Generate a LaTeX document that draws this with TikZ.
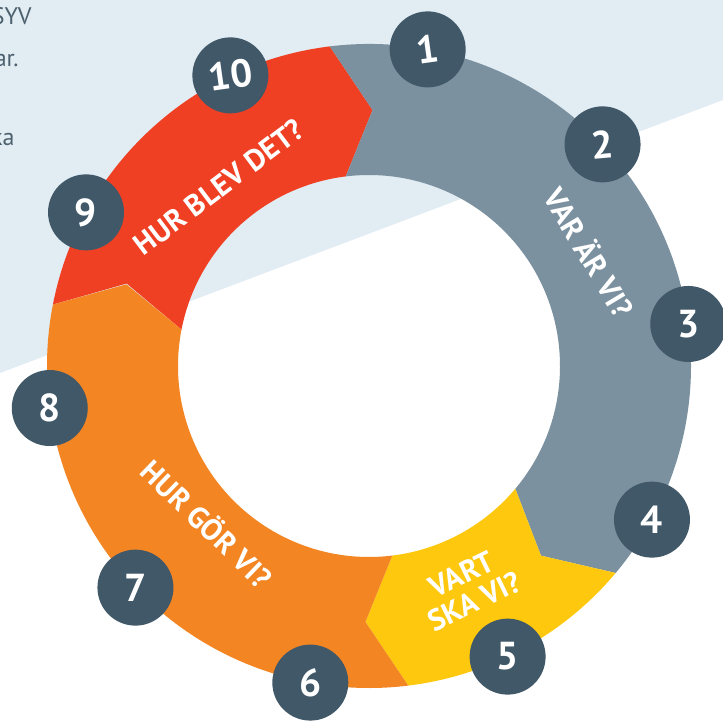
\documentclass[tikz,border=0pt]{standalone}
\usepackage{fontspec}
\setmainfont{PT Sans}
\usepackage{xcolor}

\definecolor{bgblue}{RGB}{225,236,243}
\definecolor{ringred}{RGB}{240,64,35}
\definecolor{ringgray}{RGB}{123,145,159}
\definecolor{ringyellow}{RGB}{254,200,14}
\definecolor{ringorange}{RGB}{243,133,35}
\definecolor{numdark}{RGB}{64,88,104}
\definecolor{sidetext}{RGB}{77,96,110}

\tikzset{
    numcircle/.style={circle, fill=numdark, text=white, minimum size=38pt, inner sep=0pt,
        font=\bfseries\fontsize{19.5}{19.5}\selectfont},
    ringlabel/.style={text=white, align=center, inner sep=0pt,
        font=\bfseries\fontsize{15}{15}\selectfont},
    sidetxt/.style={text=sidetext, inner sep=0pt, font=\fontsize{12}{12}\selectfont},
}

\begin{document}
\begin{tikzpicture}[x=0.5pt, y=0.5pt]

        \useasboundingbox (0,0) rectangle (723,-721);

        % light background band
        \fill[bgblue] (0,0) -- (723,0) -- (723,-100) -- (0,-373) -- cycle;

        \node[sidetxt, anchor=base east] (syv) at (32,-25) {SYV};
        \node[sidetxt, anchor=base east] (ar) at (19,-67) {ar.};
        \node[sidetxt, anchor=base east] (ka) at (15,-146) {ka};

        \begin{scope}[shift={(369,-366)}]
            % ring segments, each one pointing clockwise into the next
            \fill[ringred] (169:322) arc[start angle=169, end angle=97, radius=322]
                -- (89.2:256) -- (97:191) arc[start angle=97, end angle=169, radius=191]
                -- (161.2:256) -- cycle;
            \fill[ringgray] (97:322) arc[start angle=97, end angle=-40, radius=322]
                -- (-47.8:256) -- (-40:191) arc[start angle=-40, end angle=97, radius=191]
                -- (89.2:256) -- cycle;
            \fill[ringyellow] (-40:322) arc[start angle=-40, end angle=-83, radius=322]
                -- (-90.8:256) -- (-83:191) arc[start angle=-83, end angle=-40, radius=191]
                -- (-47.8:256) -- cycle;
            \fill[ringorange] (-83:322) arc[start angle=-83, end angle=-191, radius=322]
                -- (-198.6:256) -- (-191:191) arc[start angle=-191, end angle=-83, radius=191]
                -- (-90.8:256) -- cycle;

            % numbered steps
            \node[numcircle, rotate=8] (n1) at (79.5:322) {1};
            \node[numcircle, rotate=5] (n2) at (43.5:322) {2};
            \node[numcircle] (n3) at (7.5:322) {3};
            \node[numcircle] (n4) at (-28.5:322) {4};
            \node[numcircle] (n5) at (-64.5:322) {5};
            \node[numcircle] (n6) at (-100.5:322) {6};
            \node[numcircle] (n7) at (-136.5:322) {7};
            \node[numcircle] (n8) at (-172.5:322) {8};
            \node[numcircle] (n9) at (-208.5:322) {9};
            \node[numcircle, rotate=8] (n10) at (-244.5:322) {10};
        \end{scope}

        \node[ringlabel, rotate=37] (hurblev) at (219,-187) {HUR BLEV DET?};
        \node[ringlabel, rotate=-59] (varar) at (590,-252) {VAR ÄR VI?};
        \node[ringlabel, rotate=26] (vart) at (468,-588) {VART\\SKA VI?};
        \node[ringlabel, rotate=-44] (hurgor) at (208,-523) {HUR GÖR VI?};

    \end{tikzpicture}
\end{document}
